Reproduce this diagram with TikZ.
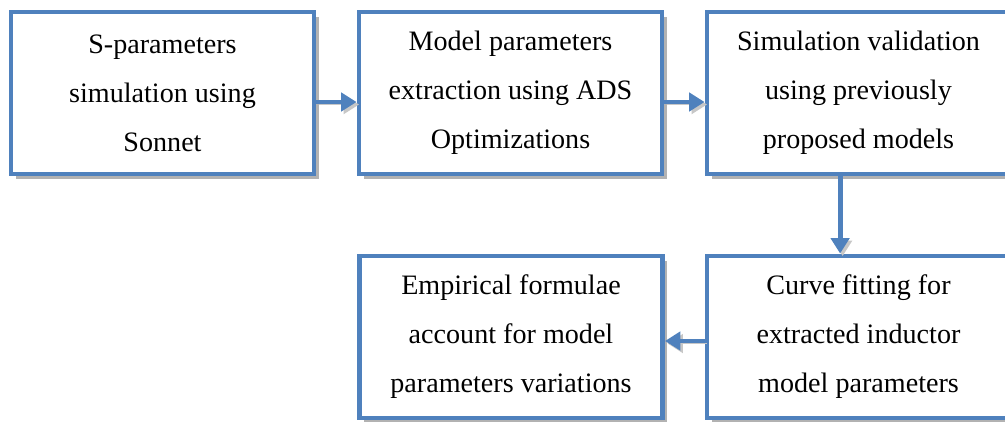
\documentclass[tikz,border=0pt]{standalone}
\usepackage{fontspec}
\setmainfont{Liberation Serif}
\usetikzlibrary{arrows.meta, shadows}

\definecolor{boxblue}{HTML}{4F81BD}

\begin{document}
\begin{tikzpicture}[
  block/.style={draw=boxblue, line width=3.5pt, fill=white,
    minimum width=7.575cm, minimum height=4.05cm, align=center,
    font=\fontsize{20}{34.8}\selectfont,
    drop shadow={shadow xshift=3.5pt, shadow yshift=-3.5pt, fill=black!30, opacity=1}},
  flow/.style={draw=boxblue, line width=3.5pt, -{Triangle[length=11pt, width=13pt]},
    preaction={draw=black!22, transform canvas={shift={(1.8pt,-1.8pt)}}}}
]
  \useasboundingbox (0,0) rectangle (25.125,10.525);

  % Top row
  \node[block] (sparam)   at (4.0625,8.2)  {S-parameters\\simulation using\\Sonnet};
  \node[block] (extract)  at (12.7625,8.2) {Model parameters\\extraction using ADS\\Optimizations};
  \node[block] (validate) at (21.4625,8.2) {Simulation validation\\using previously\\proposed models};

  % Bottom row
  \node[block] (formulae) at (12.775,2.1)  {Empirical formulae\\account for model\\parameters variations};
  \node[block] (fitting)  at (21.4625,2.1) {Curve fitting for\\extracted inductor\\model parameters};

  % Arrows
  \draw[flow] ([yshift=-0.225cm]sparam.east) -- ([yshift=-0.225cm]extract.west);
  \draw[flow] ([yshift=-0.225cm]extract.east) -- ([yshift=-0.225cm]validate.west);
  \draw[flow] ([xshift=-0.46cm]validate.south) -- ([xshift=-0.46cm]fitting.north);
  \draw[flow] ([yshift=-0.1cm]fitting.west) -- ([yshift=-0.1cm]formulae.east);
\end{tikzpicture}
\end{document}
